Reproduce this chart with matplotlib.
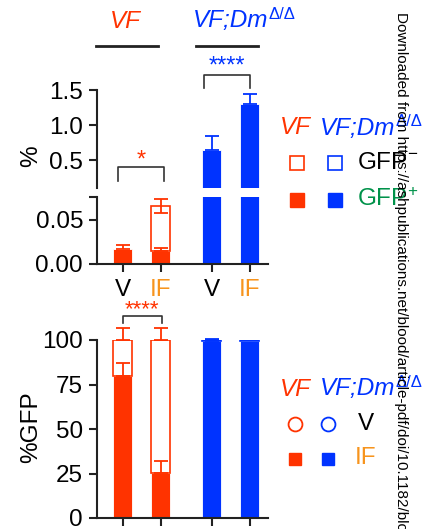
import matplotlib
matplotlib.use("Agg")
import matplotlib.pyplot as plt
import numpy as np

plt.rcParams['font.family'] = ['Liberation Sans', 'DejaVu Sans']
plt.rcParams['mathtext.fontset'] = 'custom'
plt.rcParams['mathtext.rm'] = 'Liberation Sans'
plt.rcParams['mathtext.it'] = 'Liberation Sans:italic'
plt.rcParams['mathtext.bf'] = 'Liberation Sans:bold'

# ---------------- data ----------------
tick_labels = ['V', 'IF', 'V', 'IF']
tick_colors = ['black', '#F7941D', 'black', '#F7941D']
# top panel (% cells)
top_gfp_pos = [0.017, 0.015, 0.65, 1.30]
top_gfp_pos_err = [0.005, 0.003, 0.20, 0.15]
top_total = [0.017, 0.066, 0.65, 1.30]
top_total_err = [0.0, 0.008, 0.0, 0.0]
# bottom panel (%GFP)
bot_if = [80.0, 25.3, 99.2, 99.6]
bot_if_err = [7.0, 7.0, 0.0, 0.0]
bot_total = [100.0, 100.0, 100.0, 100.0]
bot_total_err = [7.0, 7.0, 0.8, 0.0]

RED = '#FF3300'
BLUE = '#0033FF'
ORANGE = '#F7941D'
GREEN = '#00924A'
bar_colors = [RED, RED, BLUE, BLUE]
xpos = np.array([0.0, 1.0, 2.34, 3.34])
XL = (-0.68, 3.82)
W, H = 431, 529
FS = 17.5

fig = plt.figure(figsize=(W / 100, H / 100), dpi=100)

def rect(l, r, t, b):
    return [l / W, 1 - b / H, (r - l) / W, (b - t) / H]

ax_top = fig.add_axes(rect(97, 268, 90, 188))
ax_low = fig.add_axes(rect(97, 268, 197, 264))
ax_bot = fig.add_axes(rect(97, 268, 340, 518))

def style(ax, bottom=True):
    for s in ['top', 'right']:
        ax.spines[s].set_visible(False)
    ax.spines['bottom'].set_visible(bottom)
    for s in ['left', 'bottom']:
        ax.spines[s].set_linewidth(1.5)
        ax.spines[s].set_color('#222222')
    ax.tick_params(axis='both', width=1.5, length=6, labelsize=FS, colors='#222222',
                   labelcolor='black', pad=4)
    ax.set_xlim(*XL)

def draw_bars(ax, pos, pos_err, total, total_err, lower_total_err=False, clip=True):
    neg = [t - p for t, p in zip(total, pos)]
    ax.bar(xpos, pos, width=0.5, color=bar_colors, edgecolor='white', linewidth=0.6, zorder=2)
    for i in range(4):
        if neg[i] > 0:
            ax.bar(xpos[i], neg[i], bottom=pos[i], width=0.5, facecolor='white',
                   edgecolor=bar_colors[i], linewidth=1.2, zorder=2)
    for i in range(4):
        if pos_err[i] > 0:
            eb = ax.errorbar(xpos[i], pos[i], yerr=[[0], [pos_err[i]]], fmt='none',
                             ecolor=bar_colors[i], capsize=5, elinewidth=1.3, capthick=1.3,
                             zorder=3)
            for a in eb.lines[1] + eb.lines[2]:
                a.set_clip_on(clip)
        if total_err[i] > 0 and neg[i] > 0:
            lo = total_err[i] if lower_total_err else 0
            eb = ax.errorbar(xpos[i], total[i], yerr=[[lo], [total_err[i]]], fmt='none',
                             ecolor=bar_colors[i], capsize=5, elinewidth=1.3, capthick=1.3,
                             zorder=3)
            for a in eb.lines[1] + eb.lines[2]:
                a.set_clip_on(clip)

# ---- top broken axis ----
style(ax_top, bottom=False)
draw_bars(ax_top, top_gfp_pos, top_gfp_pos_err, top_total, top_total_err, True, clip=True)
ax_top.set_ylim(0.1, 1.5)
ax_top.set_yticks([0.5, 1.0, 1.5])
ax_top.set_yticklabels(['0.5', '1.0', '1.5'])
ax_top.set_xticks([])

style(ax_low)
draw_bars(ax_low, top_gfp_pos, top_gfp_pos_err, top_total, top_total_err, True, clip=True)
ax_low.set_ylim(0, 0.0761)
ax_low.set_yticks([0.0, 0.05, 0.0761])
ax_low.set_yticklabels(['0.00', '0.05', ''])
ax_low.set_xticks(xpos)
ax_low.set_xticklabels(tick_labels)
for lbl, c in zip(ax_low.get_xticklabels(), tick_colors):
    lbl.set_color(c)
ax_low.tick_params(axis='x', pad=5)

fig.text(31 / W, 1 - 156 / H, '%', rotation=90, fontsize=FS, ha='center', va='center')

# brackets
def bracket(ax, x0, x1, ytop, ybot, txt, color, ty, fs):
    ax.plot([x0, x0, x1, x1], [ybot, ytop, ytop, ybot], color='#333333', lw=1.2,
            clip_on=False, zorder=4)
    ax.text((x0 + x1) / 2, ty, txt, color=color, ha='center', va='center',
            fontsize=fs, clip_on=False)

bracket(ax_top, -0.13, 1.08, 0.40, 0.20, '*', RED, 0.49, 17)
bracket(ax_top, 2.13, 3.34, 1.714, 1.53, '****', BLUE, 1.84, 17)

# ---- bottom panel ----
style(ax_bot)
draw_bars(ax_bot, bot_if, bot_if_err, bot_total, bot_total_err, False, clip=False)
eb = ax_bot.errorbar(xpos[2], bot_if[2], yerr=[[0], [bot_total_err[2]]], fmt='none',
                     ecolor=BLUE, capsize=5, elinewidth=1.3, capthick=1.3)
for a in eb.lines[1] + eb.lines[2]:
    a.set_clip_on(False)
ax_bot.set_ylim(0, 100)
ax_bot.set_yticks([0, 25, 50, 75, 100])
ax_bot.set_xticks(xpos)
ax_bot.set_xticklabels(['', '', '', ''])
fig.text(31 / W, 1 - 427 / H, '%GFP', rotation=90, fontsize=FS, ha='center', va='center')
bracket(ax_bot, 0.0, 1.03, 113.5, 109.6, '****', RED, 116.8, 16)

# ---- overlay for group labels and legends ----
ov = fig.add_axes([0, 0, 1, 1], zorder=-1)
ov.set_xlim(0, W)
ov.set_ylim(H, 0)
ov.axis('off')

def dm_label(x, y):
    t = ov.text(x, y, 'VF;Dm', color=BLUE, fontsize=FS, style='italic',
                ha='left', va='center')
    ov.annotate('\u0394/\u0394', xy=(1.0, 0.78), xycoords=t, color=BLUE, fontsize=12,
                ha='left', va='center')
    return t

ov.text(125, 21, 'VF', color=RED, fontsize=FS, style='italic', ha='center', va='center')
dm_label(193, 21)
ov.plot([96, 158], [46, 46], color='#222222', lw=2)
ov.plot([196, 258], [46, 46], color='#222222', lw=2)

# legend top
ov.text(280, 128, 'VF', color=RED, fontsize=FS, style='italic', ha='left', va='center')
dm_label(320, 128)
ov.plot([297], [163], marker='s', ms=10, mfc='white', mec=RED, mew=1.2, ls='none')
ov.plot([335], [163], marker='s', ms=10, mfc='white', mec=BLUE, mew=1.2, ls='none')
ov.text(357, 163, r'GFP$^{\mathrm{-}}$', color='black', fontsize=FS, ha='left', va='center')
ov.plot([297], [200], marker='s', ms=10, mfc=RED, mec=RED, ls='none')
ov.plot([335], [200], marker='s', ms=10, mfc=BLUE, mec=BLUE, ls='none')
ov.text(357, 200, r'GFP$^{\mathrm{+}}$', color=GREEN, fontsize=FS, ha='left', va='center')

# legend bottom
ov.text(280, 389, 'VF', color=RED, fontsize=FS, style='italic', ha='left', va='center')
dm_label(320, 389)
ov.plot([295], [424], marker='o', ms=10, mfc='white', mec=RED, mew=1.3, ls='none')
ov.plot([328], [424], marker='o', ms=10, mfc='white', mec=BLUE, mew=1.3, ls='none')
ov.text(358, 424, 'V', color='black', fontsize=FS, ha='left', va='center')
ov.plot([295], [459], marker='s', ms=9, mfc=RED, mec=RED, ls='none')
ov.plot([328], [459], marker='s', ms=9, mfc=BLUE, mec=BLUE, ls='none')
ov.text(355, 458, 'IF', color=ORANGE, fontsize=FS, ha='left', va='center')

# watermark
fig.text(401 / W, 1 - 12 / H,
         'Downloaded from https://ashpublications.net/blood/article-pdf/doi/10.1182/blood.2022017976/blood.pdf by guest',
         rotation=-90, fontsize=11, ha='center', va='top', color='black', zorder=10)

fig.savefig('out.png', dpi=100)
